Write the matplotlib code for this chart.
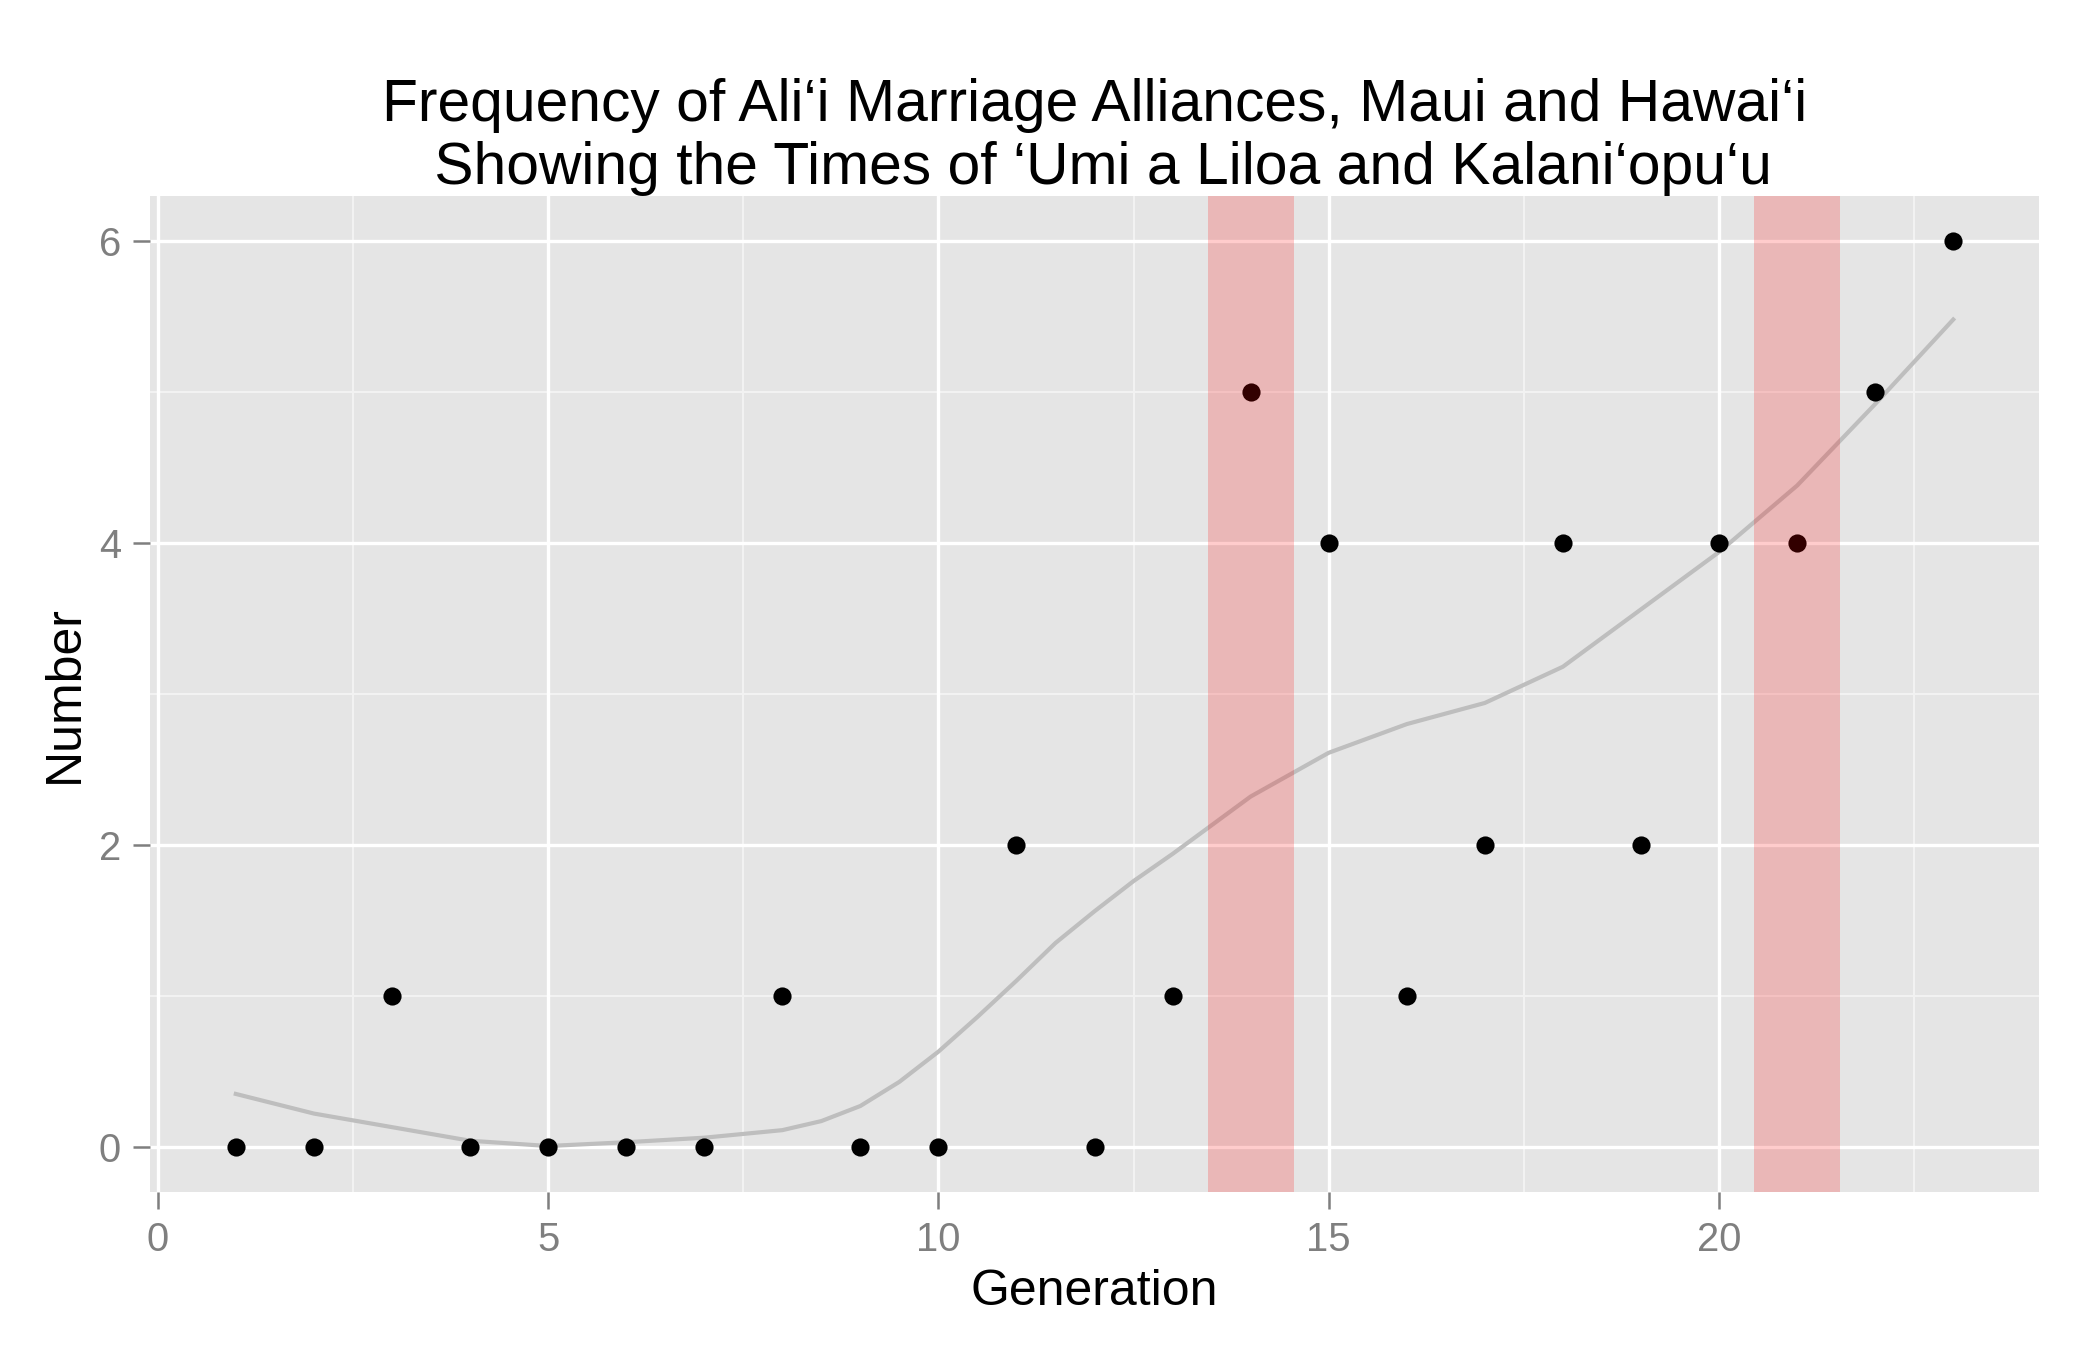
import numpy as np
import matplotlib
matplotlib.use('Agg')
import matplotlib.pyplot as plt

plt.rcParams['font.family'] = ['Liberation Sans', 'DejaVu Sans']

# data
generation = [1, 2, 3, 4, 5, 6, 7, 8, 9, 10, 11, 12, 13, 14, 15, 16, 17, 18, 19, 20, 21, 22, 23]
number = [0, 0, 1, 0, 0, 0, 0, 1, 0, 0, 2, 0, 1, 5, 4, 1, 2, 4, 2, 4, 4, 5, 6]

# smoothed trend
smooth_x = [1, 2, 3, 4, 5, 6, 7, 8, 8.5, 9, 9.5, 10, 10.5, 11, 11.5, 12, 12.5,
            13, 14, 15, 16, 17, 18, 19, 20, 21, 22, 23]
smooth_y = [0.35, 0.22, 0.13, 0.04, 0.005, 0.03, 0.06, 0.11, 0.17, 0.27, 0.43, 0.63,
            0.86, 1.10, 1.35, 1.56, 1.76, 1.94, 2.32, 2.61, 2.80, 2.94, 3.18, 3.56,
            3.94, 4.38, 4.92, 5.48]

# highlighted periods ('Umi a Liloa, Kalani'opu'u)
band_start = [13.45, 20.45]
band_end = [14.55, 21.55]

title = ("Frequency of Ali\u2018i Marriage Alliances, Maui and Hawai\u2018i\n"
         " Showing the Times of \u2018Umi a Liloa and Kalani\u2018opu\u2018u")

fig = plt.figure(figsize=(7, 4.5), dpi=300)
ax = fig.add_axes([0.0714, 0.117, 0.8996, 0.738])
ax.set_facecolor('#E5E5E5')

ax.set_xlim(-0.1, 24.1)
ax.set_ylim(-0.3, 6.3)

# grid
for v in [2.5, 7.5, 12.5, 17.5, 22.5]:
    ax.axvline(v, color='#F2F2F2', lw=0.5, zorder=1)
for v in [1, 3, 5]:
    ax.axhline(v, color='#F2F2F2', lw=0.5, zorder=1)
for v in [0, 5, 10, 15, 20]:
    ax.axvline(v, color='white', lw=0.8, zorder=1)
for v in [0, 2, 4, 6]:
    ax.axhline(v, color='white', lw=0.8, zorder=1)

ax.plot(smooth_x, smooth_y, color='#BEBEBE', lw=1.0, zorder=2)
ax.scatter(generation, number, s=19, color='black', zorder=3, linewidths=0)

for a, b in zip(band_start, band_end):
    ax.axvspan(a, b, color='red', alpha=0.2, lw=0, zorder=4)

for s in ax.spines.values():
    s.set_visible(False)

ax.set_xticks([0, 5, 10, 15, 20])
ax.set_yticks([0, 2, 4, 6])
ax.tick_params(colors='#7F7F7F', labelsize=9.6, length=4, width=0.6,
               labelcolor='#7F7F7F', pad=3)

ax.set_xlabel('Generation', fontsize=12, labelpad=2.4)
ax.set_ylabel('Number', fontsize=12, labelpad=2.5)
ax.set_title(title, fontsize=14.1, linespacing=1.18, pad=2.7)

fig.savefig('out.png', dpi=300)
